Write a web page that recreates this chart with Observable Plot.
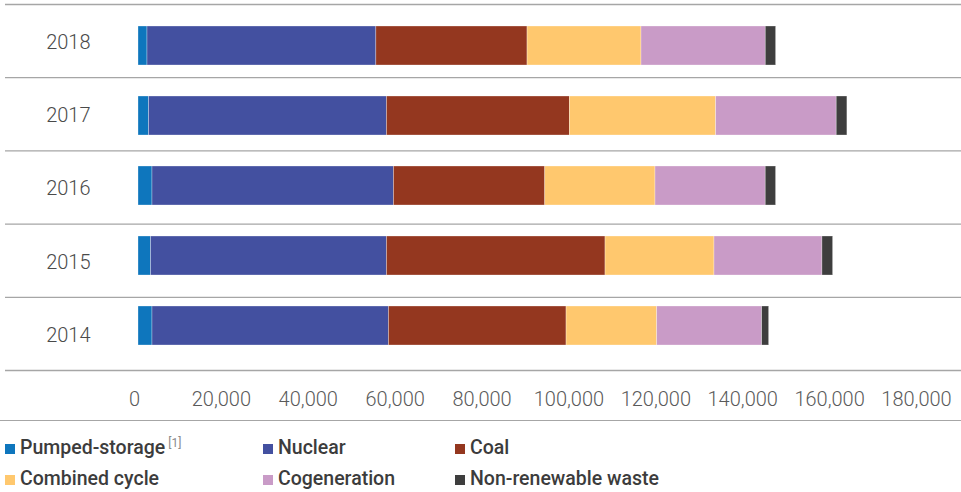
<!DOCTYPE html>
<html>
<head>
<meta charset="utf-8">
<script src="https://cdn.jsdelivr.net/npm/d3@7"></script>
<script src="https://cdn.jsdelivr.net/npm/@observablehq/plot@0.6"></script>
<style>
  body { margin: 0; background: #fff; font-family: Roboto, "Noto Sans", sans-serif; overflow: hidden; }
  #chart { position: relative; width: 961px; height: 420px; }
  #chart svg { position: absolute; left: 0; top: 0; }
  #legend {
    width: 956px; padding: 11px 0 0 5px; border-top: 1.3px solid #a6a6a6;
    display: grid; grid-template-columns: 258px 192px auto; grid-auto-rows: 31px; align-items: center;
    font-size: 19.5px; font-weight: 500; color: #3c3c3c; line-height: 22px;
  }
  #legend .sw { display: inline-block; width: 10px; height: 10px; margin-right: 5px; vertical-align: baseline; }
  #legend sup { font-size: 12px; font-weight: 400; color: #8a8a8a; margin-left: 3px; vertical-align: 7px; line-height: 0; }
</style>
</head>
<body>
<div id="chart"></div>
<div id="legend"></div>
<script>
// Non-renewable generation by technology, GWh
const years = ["2018", "2017", "2016", "2015", "2014"];
const sources = ["Pumped-storage", "Nuclear", "Coal", "Combined cycle", "Cogeneration", "Non-renewable waste"];
const colors = ["#0e76bd", "#4350a0", "#94371f", "#ffc86e", "#c99bc7", "#3e3e3e"];

const pumpedStorage     = [2070, 2440, 3220, 2900, 3220];
const nuclear           = [52680, 54750, 55580, 54290, 54430];
const coal              = [34800, 42100, 34830, 50310, 40880];
const combinedCycle     = [26230, 33680, 25370, 25080, 20870];
const cogeneration      = [28600, 27740, 25370, 24850, 24150];
const nonRenewableWaste = [2390, 2460, 2390, 2460, 1610];

const xTicks = [0, 20000, 40000, 60000, 80000, 100000, 120000, 140000, 160000, 180000];

const series = [pumpedStorage, nuclear, coal, combinedCycle, cogeneration, nonRenewableWaste];
const table = years.flatMap((year, i) =>
  sources.map((source, s) => ({year, source, value: series[s][i]}))
);

const W = 961, H = 420;
const xScale = {type: "linear", domain: [0, 180000]};
const common = {
  width: W, height: H,
  marginLeft: 138, marginRight: 41,
  style: {fontFamily: "Roboto, sans-serif", fontSize: "20px", fontWeight: 300, color: "#555", background: "transparent"}
};

// Row separators, year labels and value axis
const rows = d3.range(years.length + 1);
const frame = Plot.plot({
  ...common,
  marginTop: 4, marginBottom: 50,
  x: xScale,
  y: {type: "linear", domain: [0, years.length], reverse: true, axis: null},
  marks: [
    Plot.ruleY(rows, {y: d => d, stroke: "#a6a6a6", strokeWidth: 1.3, insetLeft: -133, insetRight: -41}),
    Plot.axisY({
      ticks: years.map((d, i) => i + 0.5),
      tickFormat: v => years[Math.floor(v)],
      tickSize: 0, tickPadding: 48, dy: 1.5, fill: "#4a4a4a"
    }),
    Plot.axisX({
      anchor: "bottom", ticks: xTicks, tickFormat: d3.format(","),
      tickSize: 0, tickPadding: 21, dx: -4, fill: "#5a5a5a"
    })
  ]
});

// Stacked bars
const bars = Plot.plot({
  ...common,
  marginTop: 9.4, marginBottom: 58.4,
  x: {...xScale, axis: null},
  y: {type: "band", domain: years, paddingInner: 0.44, paddingOuter: 0.22, axis: null},
  color: {domain: sources, range: colors},
  marks: [
    Plot.barX(table, Plot.stackX({
      x: "value", y: "year", fill: "source", order: sources,
      stroke: "white", strokeWidth: 0.6, strokeOpacity: 0.5
    }))
  ]
});

const chart = document.getElementById("chart");
chart.append(frame, bars);

// Legend
const legend = d3.select("#legend");
sources.forEach((source, i) => {
  const item = legend.append("div");
  item.append("span").attr("class", "sw").style("background", colors[i]);
  item.append("span").text(source);
  if (i === 0) item.append("sup").text("[1]");
});
</script>
</body>
</html>
